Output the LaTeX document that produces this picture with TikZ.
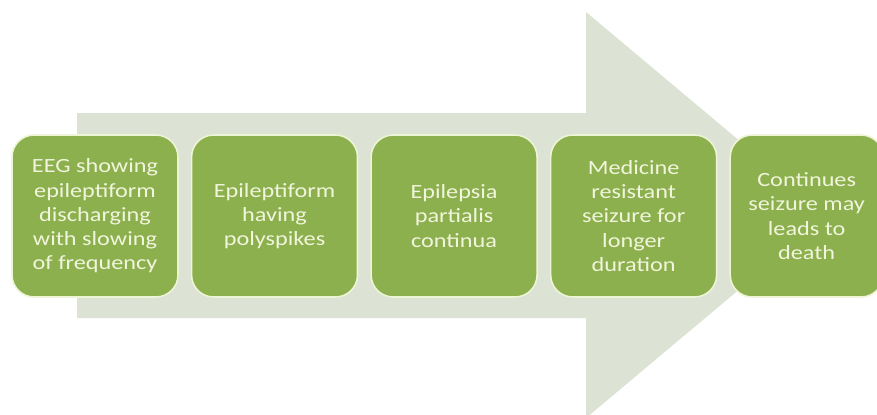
\documentclass[tikz,border=0pt]{standalone}
\usepackage{fontspec}
\setmainfont{Carlito}
\newfontfamily\stepfont[FakeStretch=1.2]{Carlito}
\usepackage{tikz}
\usetikzlibrary{positioning}
\definecolor{boxgreen}{RGB}{141,176,78}
\definecolor{boxline}{RGB}{238,244,214}
\definecolor{arrowgrey}{RGB}{220,226,212}
\definecolor{textcream}{RGB}{240,245,220}
\tikzset{
  stepbox/.style={draw=boxline, line width=0.9pt, rounded corners=0.44cm, fill=boxgreen, text=textcream, minimum width=3.32cm, minimum height=3.24cm, align=center, inner sep=1pt},
  bigarrow/.style={fill=arrowgrey, draw=none}
}
\begin{document}
\begin{tikzpicture}[x=0.02cm, y=-0.02cm, node distance=0.24cm, every node/.style={font=\stepfont\fontsize{11.5}{13.8}\selectfont}]
      \useasboundingbox (0,0) rectangle (877,414);
      % background arrow
      \fill[bigarrow] (77,113) -- (586,113) -- (586,12) -- (828,215) -- (586,418) -- (586,318) -- (77,318) -- cycle;
      % steps
      \node[stepbox] (eeg) at (95,216) {EEG showing\\epileptiform\\discharging\\with slowing\\of frequency};
      \node[stepbox, right=of eeg] (poly) {Epileptiform\\having\\polyspikes};
      \node[stepbox, right=of poly] (epc) {Epilepsia\\partialis\\continua};
      \node[stepbox, right=of epc] (resist) {Medicine\\resistant\\seizure for\\longer\\duration};
      \node[stepbox, right=of resist, minimum width=3.06cm] (death) {Continues\\seizure may\\leads to\\death};
    \end{tikzpicture}
\end{document}
